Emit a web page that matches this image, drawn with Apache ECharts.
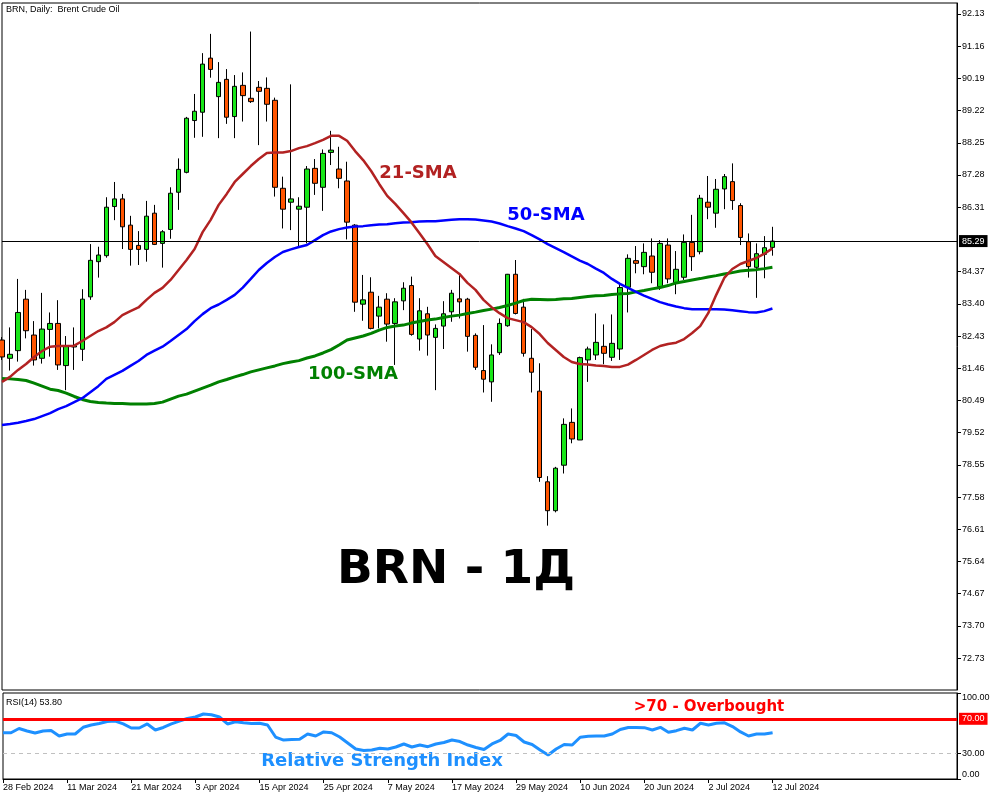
<!DOCTYPE html>
<html><head><meta charset="utf-8">
<script src="https://cdn.jsdelivr.net/npm/echarts@6/dist/echarts.min.js"></script>
<style>html,body{margin:0;padding:0;background:#fff}#c{width:1000px;height:800px}</style>
</head><body><div id="c"></div>
<script>
// trading days (last 23 are empty chart-shift slots)
const dates = [
'28 Feb 2024','29 Feb 2024',
'1 Mar 2024','4 Mar 2024','5 Mar 2024','6 Mar 2024','7 Mar 2024','8 Mar 2024',
'11 Mar 2024','12 Mar 2024','13 Mar 2024','14 Mar 2024','15 Mar 2024',
'18 Mar 2024','19 Mar 2024','20 Mar 2024','21 Mar 2024','22 Mar 2024',
'25 Mar 2024','26 Mar 2024','27 Mar 2024','28 Mar 2024',
'1 Apr 2024','2 Apr 2024','3 Apr 2024','4 Apr 2024','5 Apr 2024',
'8 Apr 2024','9 Apr 2024','10 Apr 2024','11 Apr 2024','12 Apr 2024',
'15 Apr 2024','16 Apr 2024','17 Apr 2024','18 Apr 2024','19 Apr 2024',
'22 Apr 2024','23 Apr 2024','24 Apr 2024','25 Apr 2024','26 Apr 2024',
'29 Apr 2024','30 Apr 2024',
'1 May 2024','2 May 2024','3 May 2024',
'6 May 2024','7 May 2024','8 May 2024','9 May 2024','10 May 2024',
'13 May 2024','14 May 2024','15 May 2024','16 May 2024','17 May 2024',
'20 May 2024','21 May 2024','22 May 2024','23 May 2024','24 May 2024',
'27 May 2024','28 May 2024','29 May 2024','30 May 2024','31 May 2024',
'3 Jun 2024','4 Jun 2024','5 Jun 2024','6 Jun 2024','7 Jun 2024',
'10 Jun 2024','11 Jun 2024','12 Jun 2024','13 Jun 2024','14 Jun 2024',
'17 Jun 2024','18 Jun 2024','19 Jun 2024','20 Jun 2024','21 Jun 2024',
'24 Jun 2024','25 Jun 2024','26 Jun 2024','27 Jun 2024','28 Jun 2024',
'1 Jul 2024','2 Jul 2024','3 Jul 2024','4 Jul 2024','5 Jul 2024',
'8 Jul 2024','9 Jul 2024','10 Jul 2024','11 Jul 2024','12 Jul 2024',
'15 Jul 2024','16 Jul 2024','17 Jul 2024','18 Jul 2024','19 Jul 2024',
'22 Jul 2024','23 Jul 2024','24 Jul 2024','25 Jul 2024','26 Jul 2024',
'29 Jul 2024','30 Jul 2024','31 Jul 2024','1 Aug 2024','2 Aug 2024',
'5 Aug 2024','6 Aug 2024','7 Aug 2024','8 Aug 2024','9 Aug 2024',
'12 Aug 2024','13 Aug 2024','14 Aug 2024'
];
const opens = [82.31,81.76,81.99,83.54,82.46,81.76,82.63,82.81,81.54,82.10,
82.03,83.61,84.67,84.85,86.33,86.56,85.77,85.16,85.04,86.13,
85.22,85.64,86.76,87.36,88.92,89.17,90.80,89.64,90.16,89.04,
89.98,89.59,89.92,89.89,89.53,86.88,86.46,86.25,86.31,87.48,
86.91,87.96,87.46,87.10,85.77,83.39,83.75,83.03,83.54,82.81,
83.49,83.95,82.34,83.10,82.39,82.73,83.16,83.55,83.54,82.45,
81.39,81.05,81.93,82.74,84.29,83.30,81.76,80.77,78.04,77.17,
78.54,79.83,79.30,81.71,81.86,82.12,81.79,82.04,83.90,84.70,
84.52,84.84,83.92,85.17,84.04,84.20,85.25,84.97,86.46,86.13,
86.86,87.08,86.36,85.27,84.50,84.89,85.10];
const highs = [82.40,82.69,84.15,83.82,82.88,83.73,83.14,83.51,82.43,82.69,
83.84,85.20,85.12,86.61,87.07,86.71,86.05,85.59,86.50,86.38,
85.62,86.91,87.78,89.03,89.72,90.95,91.53,90.68,90.47,90.29,
90.37,91.60,90.11,90.22,89.61,87.23,90.01,86.61,87.55,87.76,
88.05,88.61,88.13,87.68,85.80,84.27,84.20,83.64,83.72,83.57,
84.05,84.22,83.57,83.31,82.78,83.48,83.82,84.27,83.58,82.51,
82.76,82.18,82.96,84.30,84.72,83.55,82.64,81.61,78.21,78.49,
79.95,80.25,81.81,82.11,83.11,82.78,83.08,83.97,84.89,85.14,
85.22,85.37,85.32,85.37,84.99,85.49,86.08,86.68,87.25,87.16,
87.31,87.63,86.43,85.52,85.22,85.44,85.72];
const lows = [81.71,81.39,81.66,82.36,81.54,81.60,81.81,81.41,80.80,81.41,
81.68,83.52,84.19,84.79,85.92,85.05,84.55,84.57,84.67,85.17,
84.49,85.36,86.23,87.33,88.40,88.43,90.21,88.39,88.82,88.39,
88.89,89.45,88.18,88.89,86.63,85.67,85.62,85.12,85.22,86.68,
86.20,87.58,86.88,85.34,83.16,82.89,82.63,82.66,82.26,81.56,
83.21,82.44,81.99,81.84,80.80,82.04,82.86,82.96,81.96,81.41,
80.73,80.45,81.86,82.71,83.08,81.81,80.73,78.04,76.72,77.12,
78.29,79.20,79.30,81.05,81.71,81.58,81.68,81.71,83.14,84.32,
84.29,84.02,83.82,84.02,83.69,84.12,84.39,84.89,85.95,85.69,
86.25,86.23,85.17,84.19,83.58,84.17,84.85];
const closes = [81.80,81.88,83.14,82.59,81.71,82.64,82.81,81.56,82.13,82.14,
83.54,84.71,84.87,86.31,86.56,85.72,85.04,85.04,86.04,85.19,
85.57,86.73,87.45,88.99,89.20,90.62,90.46,90.07,89.02,89.95,
89.67,89.49,89.80,89.41,86.91,86.25,86.56,86.34,87.46,87.03,
87.93,88.03,87.18,85.86,83.45,83.52,82.66,83.30,82.79,83.46,
83.87,82.48,83.19,82.46,82.66,83.10,83.72,83.46,82.42,81.49,
81.13,81.86,82.81,84.29,83.11,81.91,81.34,78.17,77.17,78.45,
79.77,79.33,81.78,82.04,82.24,81.91,82.21,83.89,84.77,84.62,
84.95,84.35,85.22,84.15,84.44,85.25,84.82,86.58,86.31,86.85,
87.23,86.51,85.40,84.52,84.91,85.09,85.29];
const sma21 = [81.05,81.20,81.41,81.59,81.80,81.98,82.11,82.13,82.13,82.14,
82.28,82.43,82.58,82.69,82.85,83.06,83.18,83.29,83.52,83.73,
83.88,84.12,84.42,84.72,85.05,85.56,85.93,86.38,86.71,87.07,
87.31,87.55,87.76,87.94,87.96,87.96,88.00,88.09,88.15,88.24,
88.34,88.46,88.46,88.31,88.00,87.73,87.40,87.01,86.65,86.41,
86.14,85.86,85.53,85.20,84.84,84.66,84.48,84.30,84.03,83.82,
83.52,83.30,83.12,82.97,82.91,82.85,82.70,82.49,82.22,82.01,
81.80,81.65,81.59,81.57,81.54,81.53,81.50,81.50,81.57,81.71,
81.86,82.01,82.13,82.19,82.23,82.34,82.52,82.73,83.12,83.67,
84.18,84.45,84.60,84.69,84.78,84.91,85.07];
const sma50 = [79.75,79.78,79.82,79.87,79.93,80.02,80.11,80.23,80.32,80.44,
80.56,80.74,80.92,81.14,81.26,81.38,81.53,81.68,81.86,81.99,
82.11,82.28,82.46,82.64,82.88,83.09,83.27,83.38,83.52,83.67,
83.89,84.15,84.42,84.63,84.81,84.96,85.04,85.11,85.17,85.32,
85.47,85.58,85.65,85.70,85.73,85.74,85.77,85.79,85.80,85.83,
85.85,85.86,85.88,85.89,85.89,85.91,85.93,85.95,85.95,85.94,
85.91,85.88,85.82,85.74,85.67,85.59,85.47,85.34,85.20,85.08,
84.96,84.83,84.70,84.60,84.46,84.33,84.15,84.00,83.88,83.76,
83.65,83.55,83.45,83.38,83.32,83.27,83.24,83.24,83.24,83.24,
83.23,83.21,83.18,83.15,83.14,83.18,83.26];
const sma100 = [81.15,81.14,81.12,81.09,81.01,80.92,80.83,80.79,80.71,80.61,
80.52,80.46,80.43,80.41,80.40,80.40,80.38,80.38,80.38,80.40,
80.44,80.53,80.62,80.68,80.77,80.86,80.95,81.05,81.12,81.20,
81.27,81.35,81.41,81.47,81.53,81.60,81.65,81.69,81.77,81.83,
81.92,82.02,82.16,82.31,82.37,82.43,82.51,82.61,82.69,82.73,
82.76,82.82,82.87,82.91,82.94,82.99,83.03,83.06,83.11,83.15,
83.20,83.24,83.29,83.35,83.42,83.50,83.54,83.53,83.52,83.53,
83.55,83.56,83.59,83.62,83.64,83.65,83.68,83.70,83.71,83.76,
83.80,83.85,83.89,83.95,84.03,84.07,84.12,84.16,84.21,84.25,
84.30,84.34,84.39,84.41,84.43,84.46,84.50];
const rsi14 = [53.8,53.8,58.7,55.8,53.5,55.8,56.4,50.0,52.3,52.3,
60.1,62.8,64.5,66.9,67.4,64.0,59.3,59.3,64.0,57.0,
59.9,64.0,67.4,70.3,72.1,75.6,74.7,72.1,64.0,66.6,
65.5,64.5,64.8,62.8,48.8,45.3,45.9,46.2,52.3,50.0,
54.7,53.8,48.8,41.9,34.9,33.1,33.7,35.7,34.9,37.2,
40.7,37.2,39.5,37.6,40.7,42.4,45.3,43.6,39.5,36.6,
34.3,40.7,44.8,52.3,50.6,43.0,40.1,33.7,27.9,34.9,
40.1,39.5,48.5,49.7,50.0,50.0,52.3,57.6,59.9,59.9,
59.7,57.0,60.1,54.3,56.2,59.0,57.0,64.8,62.8,64.8,
65.3,61.0,54.7,50.0,52.3,52.3,53.8];
const priceTicks = [72.73,73.70,74.67,75.64,76.61,77.58,78.55,79.52,80.49,81.46,
82.43,83.40,84.37,86.31,87.28,88.25,89.22,90.19,91.16,92.13];
const rsiTicks = [0,30,100];
const rsiOverbought = 70;
const rsiOversold = 30;

const candleData = closes.map((c, i) => [opens[i], c, lows[i], highs[i]]);
const lastClose = closes[closes.length - 1];
const lastRsi = rsi14[rsi14.length - 1];
const nBars = closes.length;
const showTick = (idx) => idx % 8 === 0 && idx < nBars;

const LF = 'Liberation Sans, Arial, sans-serif';
const BF = 'DejaVu Sans, Verdana, sans-serif';

const chart = echarts.init(document.getElementById('c'), null, {renderer: 'canvas'});
chart.setOption({
  animation: false,
  backgroundColor: '#fff',
  grid: [
    {left: 2, top: 3, width: 955, height: 687, show: true, borderColor: '#000', borderWidth: 1},
    {left: 2, top: 693, width: 955, height: 86, show: true, borderColor: '#000', borderWidth: 1}
  ],
  xAxis: [
    {type: 'category', gridIndex: 0, data: dates, boundaryGap: false, show: false},
    {type: 'category', gridIndex: 1, data: dates, boundaryGap: false,
     axisLine: {show: true, lineStyle: {color: '#000', width: 1}},
     axisTick: {show: true, interval: showTick, length: 4, lineStyle: {color: '#000'}},
     axisLabel: {show: true, interval: showTick, align: 'left', margin: 4,
       fontFamily: LF, fontSize: 9, color: '#000'},
     splitLine: {show: false}}
  ],
  yAxis: [
    {type: 'value', gridIndex: 0, position: 'right', min: 71.77, max: 92.46, scale: true,
     axisLine: {show: true, lineStyle: {color: '#000'}},
     axisTick: {show: true, length: 4, customValues: priceTicks, lineStyle: {color: '#000'}},
     axisLabel: {show: true, customValues: priceTicks, margin: 5, fontFamily: LF, fontSize: 9, color: '#000',
       formatter: v => v.toFixed(2)},
     splitLine: {show: false}},
    {type: 'value', gridIndex: 1, position: 'right', min: 0, max: 100,
     axisLine: {show: true, lineStyle: {color: '#000'}},
     axisTick: {show: true, length: 4, customValues: rsiTicks, lineStyle: {color: '#000'}},
     axisLabel: {show: true, customValues: rsiTicks, margin: 5, fontFamily: LF, fontSize: 9, color: '#000',
       verticalAlignMinLabel: 'bottom', verticalAlignMaxLabel: 'top',
       formatter: v => v.toFixed(2)},
     splitLine: {show: false}}
  ],
  series: [
    {type: 'candlestick', xAxisIndex: 0, yAxisIndex: 0, data: candleData, barWidth: 5,
     itemStyle: {color: '#19E619', color0: '#FF5500', borderColor: '#000', borderColor0: '#000', borderWidth: 1},
     markLine: {silent: true, symbol: 'none', animation: false,
       data: [{yAxis: lastClose}],
       lineStyle: {color: '#000', width: 1, type: 'solid'},
       label: {show: true, position: 'end', distance: 2, formatter: p => p.value.toFixed(2),
         color: '#fff', backgroundColor: '#000', padding: [2, 3, 1, 3], fontFamily: LF, fontSize: 9}},
     z: 2},
    {type: 'line', name: '100-SMA', xAxisIndex: 0, yAxisIndex: 0, data: sma100, showSymbol: false,
     lineStyle: {color: '#008000', width: 3}, z: 3},
    {type: 'line', name: '50-SMA', xAxisIndex: 0, yAxisIndex: 0, data: sma50, showSymbol: false,
     lineStyle: {color: '#0000FF', width: 2.5}, z: 3},
    {type: 'line', name: '21-SMA', xAxisIndex: 0, yAxisIndex: 0, data: sma21, showSymbol: false,
     lineStyle: {color: '#B22222', width: 2.5}, z: 3},
    {type: 'line', name: 'RSI', xAxisIndex: 1, yAxisIndex: 1, data: rsi14, showSymbol: false,
     lineStyle: {color: '#1E90FF', width: 3}, z: 4,
     markLine: {silent: true, symbol: 'none', animation: false,
       data: [
         {yAxis: rsiOverbought, lineStyle: {color: '#FF0000', width: 3, type: 'solid'},
          label: {show: true, position: 'end', distance: 2, formatter: p => p.value.toFixed(2),
            color: '#fff', backgroundColor: '#FF0000', padding: [2, 3, 1, 3], fontFamily: LF, fontSize: 9}},
         {yAxis: rsiOversold, lineStyle: {color: '#C0C0C0', width: 1, type: [4, 4]},
          label: {show: false}}
       ]}}
  ],
  graphic: [
    {type: 'text', x: 6, y: 10, style: {text: 'BRN, Daily:  Brent Crude Oil', font: '9px ' + LF, fill: '#000',
      align: 'left', verticalAlign: 'middle', textAlign: 'left', textVerticalAlign: 'middle'}},
    {type: 'text', x: 6, y: 703, style: {text: 'RSI(14) ' + lastRsi.toFixed(2), font: '9px ' + LF, fill: '#000',
      align: 'left', verticalAlign: 'middle', textAlign: 'left', textVerticalAlign: 'middle'}},
    {type: 'text', x: 418, y: 173, style: {text: '21-SMA', font: 'bold 18px ' + BF, fill: '#B22222',
      align: 'center', verticalAlign: 'middle', textAlign: 'center', textVerticalAlign: 'middle'}},
    {type: 'text', x: 546, y: 215, style: {text: '50-SMA', font: 'bold 18px ' + BF, fill: '#0000FF',
      align: 'center', verticalAlign: 'middle', textAlign: 'center', textVerticalAlign: 'middle'}},
    {type: 'text', x: 353, y: 374, style: {text: '100-SMA', font: 'bold 18px ' + BF, fill: '#008000',
      align: 'center', verticalAlign: 'middle', textAlign: 'center', textVerticalAlign: 'middle'}},
    {type: 'text', x: 709, y: 707, style: {text: '>70 - Overbought', font: 'bold 15px ' + BF, fill: '#FF0000',
      align: 'center', verticalAlign: 'middle', textAlign: 'center', textVerticalAlign: 'middle'}},
    {type: 'text', x: 382, y: 761, style: {text: 'Relative Strength Index', font: 'bold 18px ' + BF, fill: '#1E90FF',
      align: 'center', verticalAlign: 'middle', textAlign: 'center', textVerticalAlign: 'middle'}},
    {type: 'text', x: 456, y: 571, style: {text: 'BRN - 1Д', font: 'bold 47px ' + BF, fill: '#000',
      align: 'center', verticalAlign: 'middle', textAlign: 'center', textVerticalAlign: 'middle'}}
  ]
});
</script></body></html>
